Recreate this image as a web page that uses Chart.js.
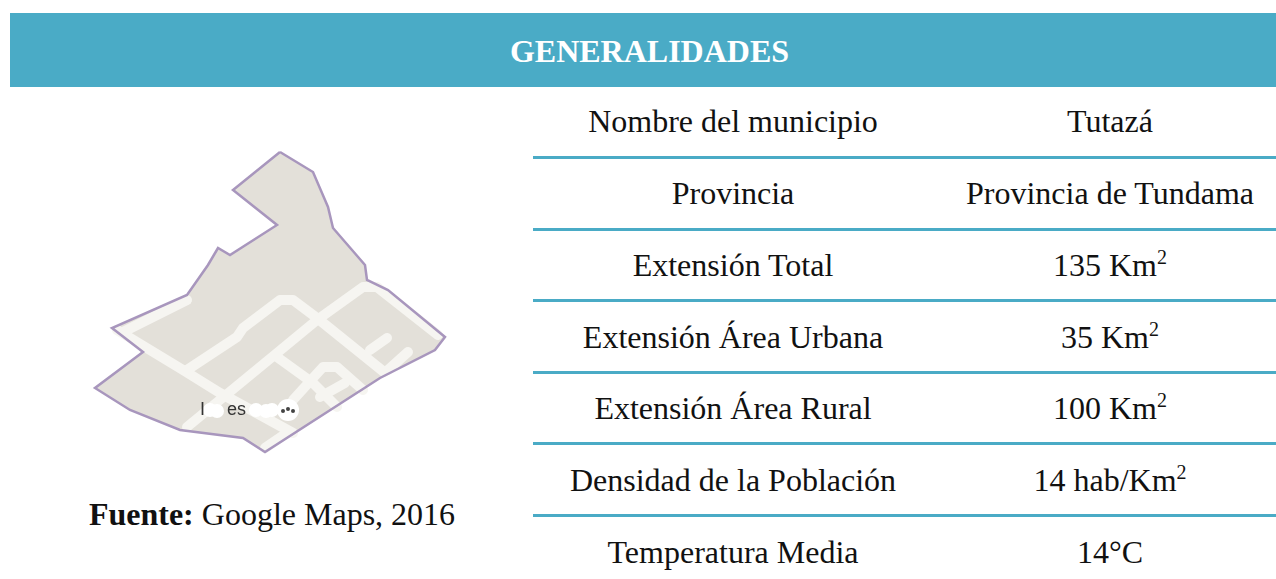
<!DOCTYPE html>
<html lang="es">
<head>
  <meta charset="UTF-8" />
  <title>Generalidades – Tutazá</title>
  <script src="https://cdn.jsdelivr.net/npm/chart.js"></script>
  <style>
    html, body { margin: 0; background: #fff; overflow: hidden; }
    body { width: 1276px; height: 579px; position: relative; font-family: "Liberation Serif", serif; color: #111; }
    #band {
      position: absolute; left: 10px; top: 13px; width: 1266px; height: 74px;
      background: #4aabc6; color: #fff; font-weight: bold; font-size: 32px;
      line-height: 76px; text-align: center; text-indent: 13px;
    }
    #map { position: absolute; left: 80px; top: 140px; filter: blur(0.6px); }
    #fuente { position: absolute; left: 10px; width: 524px; top: 495px; text-align: center; font-size: 32px; line-height: 38px; }
    table { position: absolute; left: 533px; top: 86px; width: 743px; border-collapse: collapse; table-layout: fixed; font-size: 32px; }
    td { height: 71.6px; padding: 1px 0 0; box-sizing: border-box; text-align: center; border-bottom: 3px solid #4aabc6; }
    td:first-child { width: 400px; }
    td:last-child { width: 343px; padding-left: 11px; }
    tr:last-child td { border-bottom: none; }
    sup { font-size: 20px; line-height: 0; vertical-align: 12px; }
  </style>
</head>
<body>
  <div id="band">GENERALIDADES</div>
  <canvas id="map" width="380" height="320"></canvas>
  <div id="fuente"><b>Fuente:</b> Google Maps, 2016</div>
  <table id="tabla"></table>

  <script>
    const rowLabels = ["Nombre del municipio", "Provincia", "Extensión Total", "Extensión Área Urbana",
      "Extensión Área Rural", "Densidad de la Población", "Temperatura Media"];
    const rowValues = ["Tutazá", "Provincia de Tundama", "135 Km<sup>2</sup>", "35 Km<sup>2</sup>",
      "100 Km<sup>2</sup>", "14 hab/Km<sup>2</sup>", "14°C"];

    // contorno del mapa y calles
    const outline = [[200,12],[233,32],[248,67],[253,88],[285,125],[287,140],[308,150],[365,197],[355,210],
      [300,238],[185,312],[163,298],[100,290],[50,270],[15,248],[63,212],[32,188],[107,155],[128,125],
      [138,108],[150,115],[197,85],[153,50],[200,12]];
    const roadA = [[43,192],[107,160]];
    const roadB = [[37,190],[103,230],[140,253],[213,293]];
    const roadC = [[107,230],[157,197],[163,188],[200,160],[213,160],[237,178],[304,232]];
    const roadD = [[107,287],[197,213],[237,180],[283,147],[297,147],[358,195]];
    const roadE = [[197,217],[233,243],[257,267]];
    const roadF = [[213,260],[243,227],[257,227],[283,250]];
    const roadK = [[240,257],[265,243]];
    const roadH = [[290,210],[307,198]];
    const roadI = [[308,230],[328,212]];
    const roadJ = [[185,308],[207,293]];
    const labelBlur = [[130,270],[137,271],[176,270],[186,271],[192,270]];
    const iconSpot = [[208,270]];
    const iconDots = [[203,271],[208,269],[213,271]];

    const rows = rowLabels.map((l, i) => `<tr><td>${l}</td><td>${rowValues[i]}</td></tr>`);
    document.getElementById("tabla").innerHTML = rows.join("");

    const road = pts => ({ data: pts, order: 4, showLine: true, pointRadius: 0, borderColor: "#f6f5f1",
      borderWidth: 10, borderCapStyle: "round", borderJoinStyle: "round", tension: 0 });

    const mapText = {
      id: "mapText",
      afterDatasetsDraw(chart) {
        const { ctx, scales: { x, y } } = chart;
        ctx.save();
        ctx.fillStyle = "#333";
        ctx.font = "18px 'Liberation Sans'";
        ctx.textBaseline = "middle";
        ctx.fillText("I", x.getPixelForValue(120), y.getPixelForValue(270));
        ctx.fillText("es", x.getPixelForValue(147), y.getPixelForValue(270));
        ctx.restore();
      }
    };

    new Chart(document.getElementById("map"), {
      type: "scatter",
      data: {
        datasets: [
          { data: iconDots, order: 0, pointRadius: 2, backgroundColor: "#444", borderWidth: 0 },
          { data: iconSpot, order: 1, pointRadius: 11, backgroundColor: "#fff", borderWidth: 0 },
          { data: labelBlur, order: 2, pointRadius: 7, backgroundColor: "#fff", borderWidth: 0 },
          { data: outline, order: 3, showLine: true, borderColor: "#a896bd", borderWidth: 2.5, pointRadius: 0, tension: 0 },
          road(roadA), road(roadB), road(roadC), road(roadD), road(roadE),
          road(roadF), road(roadK), road(roadH), road(roadI), road(roadJ),
          { data: outline, order: 5, showLine: true, fill: "shape", backgroundColor: "#e3e0d9", borderWidth: 0, pointRadius: 0, tension: 0 }
        ]
      },
      options: {
        responsive: false,
        animation: false,
        layout: { padding: 0, autoPadding: false },
        plugins: { legend: { display: false }, tooltip: { enabled: false } },
        scales: {
          x: { display: false, min: 0, max: 380 },
          y: { display: false, min: 0, max: 320, reverse: true }
        }
      },
      plugins: [mapText]
    });
  </script>
</body>
</html>
